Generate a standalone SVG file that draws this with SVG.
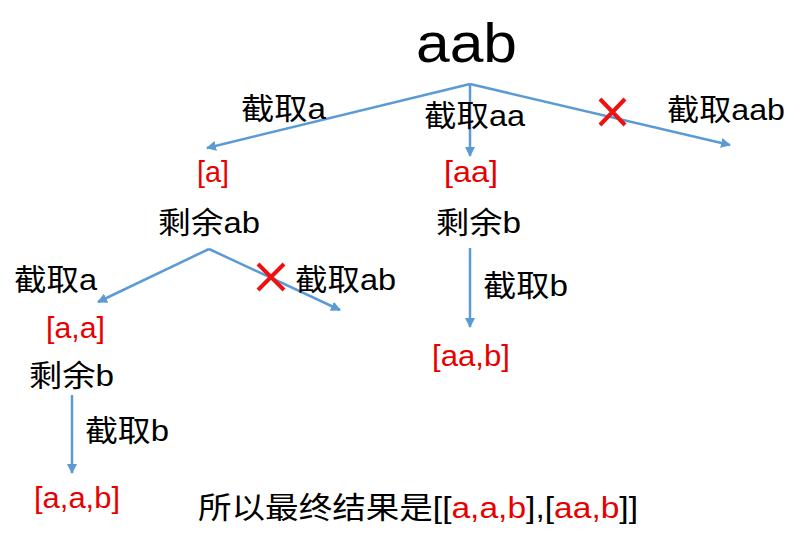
<svg xmlns="http://www.w3.org/2000/svg" width="803" height="537" viewBox="0 0 803 537">
<style>
text{font-family:"Liberation Sans","Noto Sans CJK SC",sans-serif;fill:#000}
.l{font-size:30px}
.r{font-size:29px;fill:#e80000}
.red{fill:#e80000}
.c{stroke:#5b9bd5;stroke-width:2.5;fill:none}
.x{stroke:#ee1111;stroke-width:4;fill:none}
</style>
<defs>
<marker id="ah" viewBox="0 0 10 10" refX="9" refY="5" markerWidth="4" markerHeight="4" orient="auto" markerUnits="strokeWidth">
<path d="M0,0 L10,5 L0,10 z" fill="#5b9bd5"/>
</marker>
</defs>
<rect width="803" height="537" fill="#fff"/>
<g id="connectors">
<path class="c" d="M470,84 L207,148" marker-end="url(#ah)"/>
<path class="c" d="M470,84 L470,156" marker-end="url(#ah)"/>
<path class="c" d="M470,84 L730,145" marker-end="url(#ah)"/>
<path class="c" d="M209,249 L98,302" marker-end="url(#ah)"/>
<path class="c" d="M209,249 L340,310" marker-end="url(#ah)"/>
<path class="c" d="M72,395 L72,473" marker-end="url(#ah)"/>
<path class="c" d="M470,248 L470,327" marker-end="url(#ah)"/>
<text class="l" x="241" y="119" textLength="85" lengthAdjust="spacingAndGlyphs">截取a</text>
<text class="l" x="424" y="126" textLength="101" lengthAdjust="spacingAndGlyphs">截取aa</text>
<text class="l" x="667" y="120" textLength="118" lengthAdjust="spacingAndGlyphs">截取aab</text>
<text class="l" x="14" y="290" textLength="83" lengthAdjust="spacingAndGlyphs">截取a</text>
<text class="l" x="295" y="290" textLength="101" lengthAdjust="spacingAndGlyphs">截取ab</text>
<text class="l" x="85" y="441" textLength="84" lengthAdjust="spacingAndGlyphs">截取b</text>
<text class="l" x="483" y="296" textLength="85" lengthAdjust="spacingAndGlyphs">截取b</text>
<path class="x" d="M600,99 L625,125 M625,99 L600,125"/>
<path class="x" d="M258,264 L284,290 M284,264 L258,290"/>
</g>
<g id="root"><text x="416" y="62" font-size="56" textLength="101" lengthAdjust="spacingAndGlyphs">aab</text></g>
<g id="n-a"><text class="r" x="197" y="182" textLength="32" lengthAdjust="spacingAndGlyphs">[a]</text></g>
<g id="n-aa"><text class="r" x="444" y="182" textLength="54" lengthAdjust="spacingAndGlyphs">[aa]</text></g>
<g id="rem-ab"><text class="l" x="158" y="233" textLength="102" lengthAdjust="spacingAndGlyphs">剩余ab</text></g>
<g id="rem-b1"><text class="l" x="436" y="233" textLength="85" lengthAdjust="spacingAndGlyphs">剩余b</text></g>
<g id="n-a-a"><text class="r" x="46" y="338" textLength="59" lengthAdjust="spacingAndGlyphs">[a,a]</text></g>
<g id="rem-b2"><text class="l" x="29" y="386" textLength="85" lengthAdjust="spacingAndGlyphs">剩余b</text></g>
<g id="n-a-a-b"><text class="r" x="34" y="508" textLength="86" lengthAdjust="spacingAndGlyphs">[a,a,b]</text></g>
<g id="n-aa-b"><text class="r" x="432" y="366" textLength="78" lengthAdjust="spacingAndGlyphs">[aa,b]</text></g>
<g id="result"><text class="l" x="198" y="518" textLength="440" lengthAdjust="spacingAndGlyphs">所以最终结果是[[<tspan class="red">a,a,b</tspan>],[<tspan class="red">aa,b</tspan>]]</text></g>
</svg>
